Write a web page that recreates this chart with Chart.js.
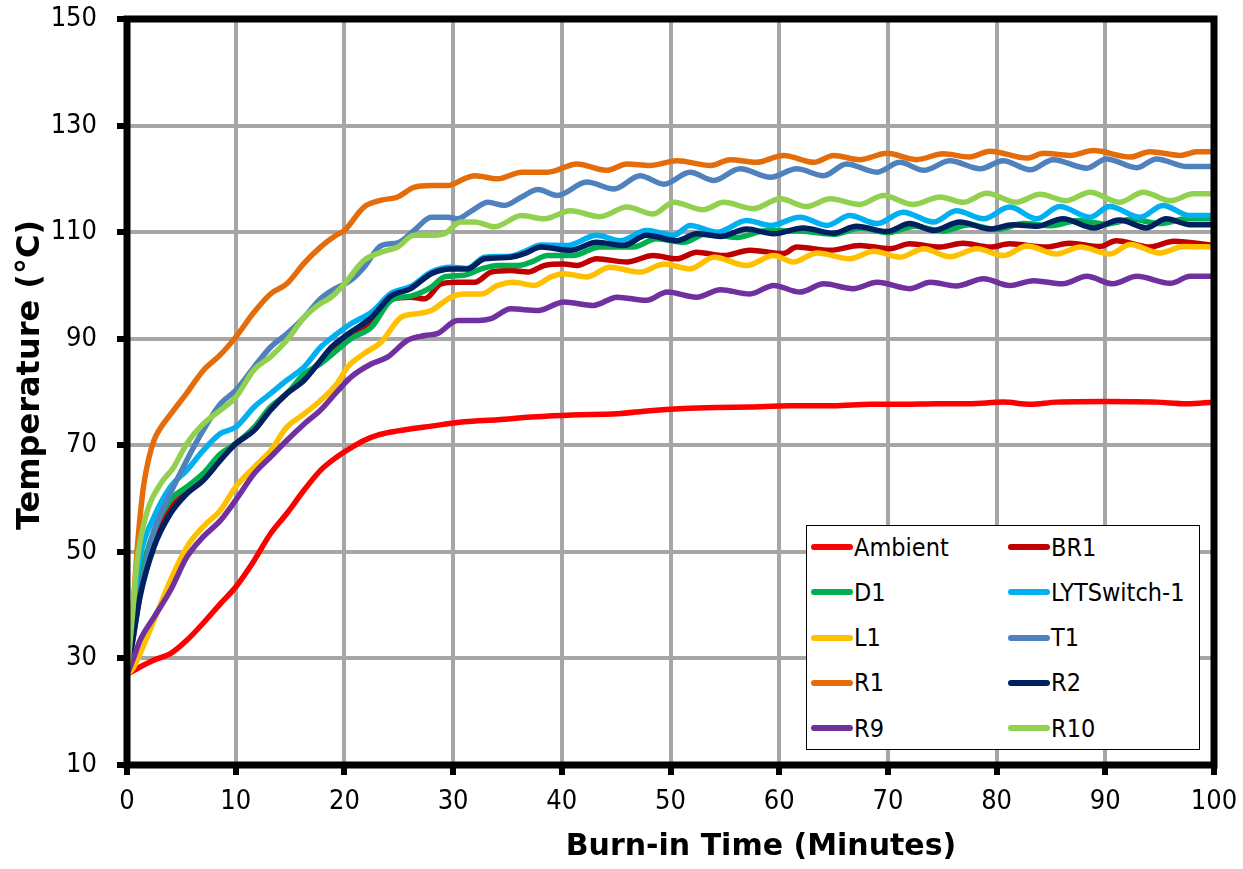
<!DOCTYPE html>
<html>
<head>
<meta charset="utf-8">
<script src="https://cdn.jsdelivr.net/npm/chart.js@4/dist/chart.umd.min.js"></script>
<style>
  body { margin: 0; background: #fff; overflow: hidden; }
  #wrap { position: relative; width: 1243px; height: 869px; }
  #legend {
    position: absolute; left: 806px; top: 525px; width: 394px; height: 225px;
    box-sizing: border-box; border: 1px solid #000; background: #fff;
    font-family: "DejaVu Sans Condensed", "DejaVu Sans", sans-serif; font-size: 25px; color: #000;
  }
  .item { position: absolute; height: 30px; display: flex; align-items: center; white-space: nowrap; }
  .swatch { display: inline-block; width: 42px; height: 6px; border-radius: 3px; margin-right: 1px; }
</style>
</head>
<body>
<div id="wrap">
  <canvas id="c" width="1243" height="869"></canvas>
  <div id="legend"></div>
</div>
<script>
'use strict';
// 軸の設定
const xTitle = 'Burn-in Time (Minutes)';
const yTitle = 'Temperature (°C)';
const xTicks = [0, 100, 10];   // min, max, step
const yTicks = [10, 150, 20];

// 各系列: 時間(分) と 温度(°C)
const ambientMin = [0,1.2,2.5,4,5.5,7,8.6,10,11.7,13.2,14.7,16.3,17.8,19.3,20.5,21.8,23.2,24.9,28,31,34.1,37.2,40.9,45.1,48.1,51.2,54.3,57.3,61,65,68.4,71.4,74.5,77.5,80.6,83.1,85.5,90.1,94.7,97.5,100];
const ambientTemp = [27,28.4,29.7,30.9,33.4,36.6,40.3,43.4,48.4,53.4,57.2,61.6,65.3,67.8,69.4,70.9,72,72.7,73.6,74.4,74.8,75.3,75.7,75.9,76.5,76.9,77.1,77.2,77.4,77.4,77.7,77.7,77.8,77.8,78.1,77.7,78.1,78.2,78.1,77.8,78.1];

const br1Min = [0,0.5,1.2,2.5,4,5.5,7,8.6,10,11.7,13.2,14.7,16.3,17.8,19.3,20.6,22.5,24.3,26.1,27.4,28.9,30.4,32,33.5,35.3,36.9,38.4,40.2,41.4,43.2,46,48.4,50.6,52.4,54.9,57.3,60.4,61.6,64.7,67.4,70.2,72,74.8,76.9,79.4,81.2,84.6,86.7,89.5,91,94.1,96.3,100];
const br1Temp = [27,34,43,52.5,58.5,61.6,64,67.8,70.3,73,76.9,79.7,82.8,85.6,88,90.5,93,97.4,97.8,97.5,100.3,100.6,100.6,102.5,102.8,102.5,103.75,104,103.75,105,104.4,105.6,105,106.25,105.6,106.6,106,107.2,106.6,107.5,106.9,107.8,107.2,107.9,107.2,107.8,107.2,107.9,107.3,108.4,107.2,108.3,107.5];

const d1Min = [0,0.5,1.2,2.5,4,5.5,7,8.6,10,11.7,13.2,14.7,16.3,17.8,19.3,20.6,22.5,24.3,26.1,28,29.2,31,32.6,34.1,36,37.2,38.7,41,43.5,46.6,48.7,51.2,53.3,56.1,58.9,62,65,67.5,70,72.5,75,77.5,80,82.5,85,87.5,90,92.5,95,97.5,100];
const d1Temp = [27,35,44.7,54,59.7,62.2,64.7,68.4,70.3,73.4,77.2,79.7,83.4,85.3,87.8,90,92.2,97.2,98,99.7,101.6,101.9,103.1,103.75,103.75,104.4,105.6,105.6,107.2,107.2,108.75,108.1,109.7,109,110.3,110.2,109.6,110.8,109.9,111.1,110.2,111.4,110.5,111.6,111.2,112.2,111.5,112.4,111.6,112.5,112.5];

const lytMin = [0,0.5,1.2,2.5,4,5.5,7,8.6,10,11.7,13.2,14.7,16.3,17.8,19.3,20.6,22.5,24.3,26.1,28,29.8,31.3,32.9,35.3,36.6,38.1,40.5,43.2,45.4,47.8,50.3,51.8,54.3,57,59.2,61.9,64.4,66.5,69,71.4,74.2,76.3,78.8,81.2,83.7,85.8,88.6,90.4,93.2,95.3,97.8,100];
const lytTemp = [27,38,49,56.6,62.2,65.3,69,72.2,73.4,77.2,79.7,82.2,84.7,88.4,90.9,92.8,95,98.5,99.8,102.5,103.4,103.2,105.3,105.5,106.4,107.6,107.5,109.4,108.4,110.3,109.4,111.25,110,112.2,111.25,112.8,111.25,113.1,111.6,113.75,111.9,114,112.5,114.7,112.5,114.8,112.8,114.8,112.8,115,113.1,113.1];

const l1Min = [0,0.5,1.2,2.5,4,5.5,7,8.6,10,11.7,13.2,14.7,16.3,17.8,19.3,20.3,21.8,23.4,25.2,26.7,28,29.8,31,32.6,34.1,35.6,37.5,39,40.2,42.3,44.4,47.2,49.4,51.8,54,57,59.5,61.3,63.5,66.5,68.7,71.1,73.3,75.7,78.2,80.6,82.8,85.5,87.7,90.4,92.3,95,97.2,100];
const l1Temp = [27,28,30.9,37.2,44.7,50.9,54.7,57.8,62.2,65.9,69,73.4,75.9,78.4,81.5,84.7,87.2,89.4,94,94.7,95.3,97.8,98.4,98.4,100,100.6,100,101.6,102.2,101.6,103.4,102.5,104,103.1,105.3,103.75,105.6,104.4,106.1,105,106.4,105.3,106.9,105.4,106.9,105.6,107.4,105.9,107.2,105.9,107.7,106.1,107.3,107.2];

const t1Min = [0,0.5,1.2,2.2,4,5.5,7,8.6,10,11.7,13.2,14.7,16.3,17.8,18.8,20.6,21.8,23.4,24.9,26.4,28,29.5,30.4,31.7,33.2,34.7,36.3,37.8,39.6,42.3,44.8,47.2,49.4,51.8,54,56.4,59.2,61.6,64.1,66.2,69,71.1,73.3,75.7,78.5,80.6,83.1,85.2,88.3,90.1,92.9,94.7,97.5,100];
const t1Temp = [27,33,42,52,61,67.2,72.8,77.8,80.3,84.7,88.4,90.9,94,97.5,99,101,103.4,107.5,108,110.3,112.8,112.8,112.5,114,115.6,115,116.6,118,116.9,119.4,118.1,120.6,119,121.25,119.7,121.9,120.3,121.9,120.6,122.8,121.25,123.1,121.6,123.4,121.9,123.4,121.7,123.6,122,123.75,122.1,123.75,122.3,122.3];

const r1Min = [0,0.5,1,1.5,2,2.5,3,4,5.5,7,8.6,10,11.7,13.2,14.7,16.3,17.8,19.3,20,21.8,23.4,24.9,26.4,28,29.5,31,32,34.1,36.3,38.7,41.4,44.1,46,48.1,50.6,53.7,55.5,57.9,60.4,63.2,65,67.4,69.9,72.6,75.1,77.5,79.4,82.8,84.3,86.7,88.9,92.3,94.1,96.9,98.4,100];
const r1Temp = [27,38,52,62,67.5,71,73,75.8,79.8,84,87,90.3,95,98.4,100.3,104.2,107.2,109.5,110.3,114.7,116,116.6,118.4,118.75,118.75,120,120.6,120,121.25,121.25,122.8,121.6,122.8,122.5,123.4,122.5,123.6,123.1,124.4,123.1,124.4,123.6,124.8,123.6,124.7,124.1,125.2,123.9,124.8,124.4,125.3,124.1,125.1,124.4,125.1,125.1];

const r2Min = [0,0.5,1.2,2.5,4,5.5,7,8.6,10,11.7,13.2,14.7,16.3,17.8,18.8,20.6,22.5,24.3,26.1,28,29.8,31.3,32.9,35.3,36.6,38.1,40.8,43.2,45.7,47.8,50.6,52.4,54.6,57,59.5,62.2,65,67.1,69.9,72,74.2,76.6,79.4,81.5,83.7,86.1,88.9,91.3,93.8,95.6,97.8,100];
const r2Temp = [27,33,41.6,51,57.2,60.9,63.4,67.2,70.3,72.8,76.6,79.7,82.2,85.9,88.4,91.25,94,98,99.4,102.2,103.1,103.1,105,105.3,106,107.2,106.6,108.1,107.5,109.4,108.4,109.7,109.2,110.6,109.7,110.8,109.8,111.1,110.1,111.6,110.3,111.9,110.6,111.4,111.1,112.5,110.8,112.3,110.8,112.5,111.4,111.4];

const r9Min = [0,0.5,1.2,2.5,4,5.5,7,8.6,10,11.7,13.2,14.7,16.3,17.8,19.3,20.6,22.5,24,25.8,27.4,28.6,30.4,32.3,33.5,35.3,37.8,40.2,42.9,45.1,47.8,49.7,52.4,54.6,57.3,59.5,61.9,64.1,66.8,69,72,73.9,76.3,78.8,81.2,83.4,86.1,88.3,90.7,92.9,96,97.8,100];
const r9Temp = [27,29.5,33.4,37.8,42.8,49,52.8,55.9,59.7,64.7,67.8,70.9,74,76.6,80,82.8,85.3,86.6,89.7,90.6,91,93.4,93.4,93.75,95.6,95.3,96.9,96.25,97.8,97.2,98.75,97.8,99.2,98.4,100,98.75,100.3,99.4,100.6,99.4,100.6,99.9,101.25,100,100.9,100.3,101.7,100.3,101.7,100.4,101.7,101.7];

const r10Min = [0,0.5,0.9,1.8,3.1,4.3,5.5,7,8.6,10,11.7,13.2,14.7,16.3,17.8,18.8,20,21.8,23.4,24.9,26.4,28,29.2,30.7,32,33.8,36.3,38.4,40.8,43.5,46,48.4,50.3,53,54.9,57.6,60.1,62.5,64.7,67.4,69.6,72.3,74.8,76.9,79.1,81.8,84,86.4,88.6,91.3,93.5,96,98.1,100];
const r10Temp = [27,38,47.8,57.2,62.8,65.9,70.3,74,76.6,79,84.2,86.6,89.7,94,96.6,97.8,100.3,104.7,106.25,107.2,109.4,109.4,109.7,111.9,111.9,111,113.1,112.5,114,112.9,114.7,113.4,115.6,114.2,115.6,114.4,116.25,114.8,116.25,115.2,116.9,115.2,116.6,115.6,117.3,115.6,117.1,115.9,117.5,115.6,117.5,115.9,117.2,117.2];

const seriesNames = ['Ambient','BR1','D1','LYTSwitch-1','L1','T1','R1','R2','R9','R10'];
const seriesColors = ['#FF0000','#C00000','#00B050','#00B0F0','#FFC000','#4F81BD','#E46C0A','#002060','#7030A0','#92D050'];
const seriesMins = [ambientMin, br1Min, d1Min, lytMin, l1Min, t1Min, r1Min, r2Min, r9Min, r10Min];
const seriesTemps = [ambientTemp, br1Temp, d1Temp, lytTemp, l1Temp, t1Temp, r1Temp, r2Temp, r9Temp, r10Temp];

const fontFamily = '"DejaVu Sans Condensed", "DejaVu Sans", sans-serif';

// 後の系列ほど上に描く (Excelと同じ重なり順)
const datasets = seriesNames.map((name, i) => ({
  label: name,
  data: seriesMins[i].map((m, j) => ({ x: m, y: seriesTemps[i][j] })),
  borderColor: seriesColors[i],
  backgroundColor: seriesColors[i],
  order: seriesNames.length - i,
}));

// 凡例 (プロット内の枠)
const legendBox = document.getElementById('legend');
seriesNames.forEach((name, i) => {
  const item = document.createElement('div');
  item.className = 'item';
  item.style.left = (i % 2 === 0 ? 4 : 201) + 'px';
  item.style.top = (6 + Math.floor(i / 2) * 45.3) + 'px';
  const sw = document.createElement('span');
  sw.className = 'swatch';
  sw.style.background = seriesColors[i];
  item.appendChild(sw);
  item.appendChild(document.createTextNode(name));
  legendBox.appendChild(item);
});

// プロットの黒枠
const frame = {
  id: 'frame',
  afterDatasetsDraw(chart) {
    const { ctx, chartArea: a } = chart;
    ctx.save();
    ctx.strokeStyle = '#000';
    ctx.lineWidth = 7;
    ctx.strokeRect(a.left, a.top, a.right - a.left, a.bottom - a.top);
    ctx.restore();
  }
};

// 軸タイトル
const axisTitles = {
  id: 'axisTitles',
  afterDraw(chart) {
    const { ctx, chartArea: a } = chart;
    ctx.save();
    ctx.fillStyle = '#000';
    ctx.textAlign = 'center';
    ctx.textBaseline = 'alphabetic';
    ctx.font = 'bold 30px "DejaVu Sans", sans-serif';
    ctx.fillText(xTitle, a.left + 634, a.bottom + 90);
    ctx.translate(39, a.top + 356);
    ctx.rotate(-Math.PI / 2);
    ctx.font = 'bold 32px "DejaVu Sans", sans-serif';
    ctx.fillText(yTitle, 0, 0);
    ctx.restore();
  }
};

const gridStyle = {
  color: '#A6A6A6',
  lineWidth: 4,
  tickColor: '#000',
  tickWidth: 6,
  tickLength: 10,
};

new Chart(document.getElementById('c'), {
  type: 'line',
  data: { datasets: datasets },
  options: {
    responsive: false,
    animation: false,
    layout: { padding: { top: 19, right: 29, left: 0, bottom: 0 } },
    plugins: { legend: { display: false }, tooltip: { enabled: false } },
    elements: {
      point: { radius: 0 },
      line: { borderWidth: 5.5, cubicInterpolationMode: 'monotone', borderCapStyle: 'round', borderJoinStyle: 'round' }
    },
    scales: {
      x: {
        type: 'linear', min: xTicks[0], max: xTicks[1],
        ticks: { stepSize: xTicks[2], padding: 11, color: '#000', font: { family: fontFamily, size: 27 } },
        grid: gridStyle,
        border: { display: false },
        afterFit(s) { s.height = 104; s.paddingLeft = 0; s.paddingRight = 0; }
      },
      y: {
        type: 'linear', min: yTicks[0], max: yTicks[1],
        ticks: { stepSize: yTicks[2], padding: 20, color: '#000', font: { family: fontFamily, size: 27 } },
        grid: gridStyle,
        border: { display: false },
        afterFit(s) { s.width = 127; s.paddingTop = 0; s.paddingBottom = 0; }
      }
    }
  },
  plugins: [frame, axisTitles]
});
</script>
</body>
</html>
